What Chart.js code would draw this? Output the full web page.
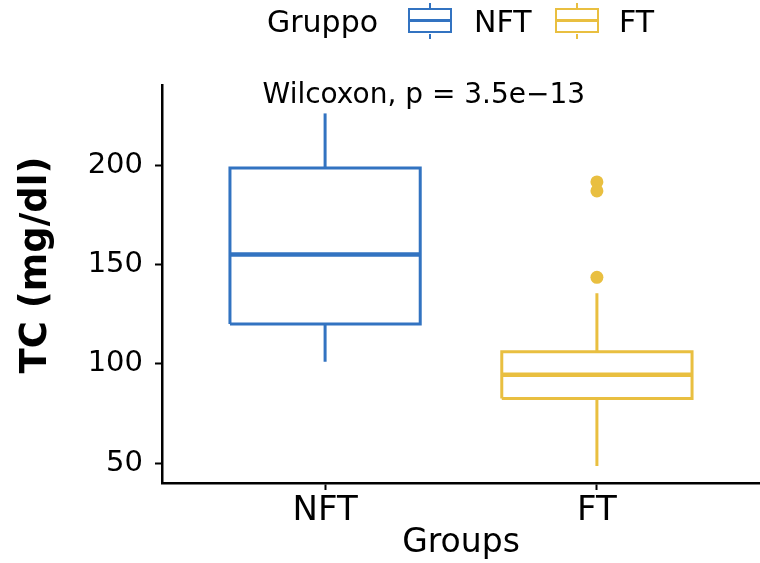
<!DOCTYPE html>
<html>
<head>
<meta charset="utf-8">
<script src="https://cdn.jsdelivr.net/npm/chart.js@4.4.1/dist/chart.umd.min.js"></script>
<style>
  body { margin: 0; background: #fff; }
  #wrap { position: relative; width: 760px; height: 563px; font-family: "DejaVu Sans", sans-serif; }
  #chart { position: absolute; left: 0; top: 0; }
  .lg-text { position: absolute; font-size: 30px; line-height: 30px; color: #000; white-space: nowrap; }
  .lg-key { position: absolute; width: 44px; height: 25px; box-sizing: border-box; border: 2.5px solid; background: #fff; }
  .lg-key .mid { position: absolute; left: 0; right: 0; top: 50%; height: 2.5px; margin-top: -1.25px; }
  .lg-key .wt, .lg-key .wb { position: absolute; left: 50%; width: 2.5px; margin-left: -1.25px; height: 5px; }
  .lg-key .wt { top: -7.5px; }
  .lg-key .wb { bottom: -7.5px; }
</style>
</head>
<body>
<div id="wrap">
  <canvas id="chart" width="760" height="563"></canvas>
  <div id="legend"></div>
</div>
<script>
// Box plot stats
const groups = ["NFT", "FT"];
const whiskerLow = [101, 48.5];
const q1 = [120, 82.5];
const median = [155, 94.5];
const q3 = [198.5, 106];
const whiskerHigh = [226, 135.5];
const outliers = [[], [191.5, 187, 143.5]];
const colors = ["#3273C1", "#E9BF40"];
const yTicks = [50, 100, 150, 200];

const testLabel = "Wilcoxon, p = 3.5e\u221213";
const testLabelPos = [0.77, 231];

const boxHalf = 0.35;

function lineSet(color, width, pts) {
  return {
    data: pts,
    showLine: true,
    borderColor: color,
    borderWidth: width,
    pointRadius: 0,
    fill: false
  };
}

function buildDatasets() {
  const sets = [];
  groups.forEach((g, i) => {
    const x = i + 1;
    const c = colors[i];
    // whiskers
    sets.push(lineSet(c, 3, [{ x: x, y: q3[i] }, { x: x, y: whiskerHigh[i] }]));
    sets.push(lineSet(c, 3, [{ x: x, y: q1[i] }, { x: x, y: whiskerLow[i] }]));
    // box
    sets.push(lineSet(c, 3, [
      { x: x - boxHalf, y: q1[i] },
      { x: x + boxHalf, y: q1[i] },
      { x: x + boxHalf, y: q3[i] },
      { x: x - boxHalf, y: q3[i] },
      { x: x - boxHalf, y: q1[i] }
    ]));
    // median
    sets.push(lineSet(c, 4.5, [{ x: x - boxHalf, y: median[i] }, { x: x + boxHalf, y: median[i] }]));
    // outliers
    if (outliers[i].length) {
      sets.push({
        data: outliers[i].map((v) => ({ x: x, y: v })),
        showLine: false,
        pointRadius: 6.5,
        pointBackgroundColor: c,
        pointBorderWidth: 0
      });
    }
  });
  return sets;
}

// text drawn on top: test result + rotated y title
const extraText = {
  id: "extraText",
  afterDatasetsDraw(chart) {
    const { ctx, scales } = chart;
    ctx.save();
    ctx.fillStyle = "#000";
    ctx.font = '28px "DejaVu Sans"';
    ctx.textAlign = "left";
    ctx.textBaseline = "alphabetic";
    ctx.fillText(testLabel, scales.x.getPixelForValue(testLabelPos[0]), scales.y.getPixelForValue(testLabelPos[1]));

    ctx.translate(46, 265);
    ctx.rotate(-Math.PI / 2);
    ctx.font = 'bold 37px "DejaVu Sans"';
    ctx.textAlign = "center";
    ctx.fillText("TC (mg/dl)", 0, 0);
    ctx.restore();
  }
};

function buildChart() {
  const axisGrid = {
    display: true,
    drawOnChartArea: false,
    drawTicks: true,
    tickLength: 7,
    tickWidth: 2,
    tickColor: "#000"
  };

  new Chart(document.getElementById("chart"), {
    type: "scatter",
    data: { datasets: buildDatasets() },
    options: {
      responsive: false,
      animation: false,
      layout: { autoPadding: false, padding: { top: 85, right: 0, left: 0, bottom: 0 } },
      plugins: { legend: { display: false }, tooltip: { enabled: false } },
      scales: {
        x: {
          type: "linear",
          min: 0.4,
          max: 2.6,
          afterBuildTicks: (s) => { s.ticks = groups.map((g, i) => ({ value: i + 1 })); },
          afterFit: (s) => {
            s.height = 80;
            s.paddingLeft = 0;
            s.paddingRight = 0;
          },
          ticks: {
            callback: (v) => groups[v - 1],
            color: "#000",
            font: { family: "DejaVu Sans", size: 34 },
            padding: 1
          },
          grid: axisGrid,
          border: { display: true, color: "#000", width: 2.5 },
          title: {
            display: true,
            text: "Groups",
            color: "#000",
            font: { family: "DejaVu Sans", size: 33 },
            padding: { top: 0, bottom: 0 }
          }
        },
        y: {
          min: 40,
          max: 240.3,
          afterBuildTicks: (s) => { s.ticks = yTicks.map((v) => ({ value: v })); },
          afterFit: (s) => { s.width = 162; },
          ticks: {
            color: "#000",
            font: { family: "DejaVu Sans", size: 29 },
            padding: 12
          },
          grid: axisGrid,
          border: { display: true, color: "#000", width: 2.5 }
        }
      }
    },
    plugins: [extraText]
  });
}

function addText(parent, text, left, top) {
  const el = document.createElement("div");
  el.className = "lg-text";
  el.textContent = text;
  el.style.left = left + "px";
  el.style.top = top + "px";
  parent.appendChild(el);
}

function addKey(parent, color, left, top) {
  const key = document.createElement("div");
  key.className = "lg-key";
  key.style.left = left + "px";
  key.style.top = top + "px";
  key.style.borderColor = color;
  ["mid", "wt", "wb"].forEach((cls) => {
    const p = document.createElement("div");
    p.className = cls;
    p.style.background = color;
    key.appendChild(p);
  });
  parent.appendChild(key);
}

function buildLegend() {
  const lg = document.getElementById("legend");
  addText(lg, "Gruppo", 267, 7);
  addKey(lg, colors[0], 408, 8);
  addText(lg, groups[0], 474, 7);
  addKey(lg, colors[1], 555, 8);
  addText(lg, groups[1], 619, 7);
}

buildChart();
buildLegend();
</script>
</body>
</html>
